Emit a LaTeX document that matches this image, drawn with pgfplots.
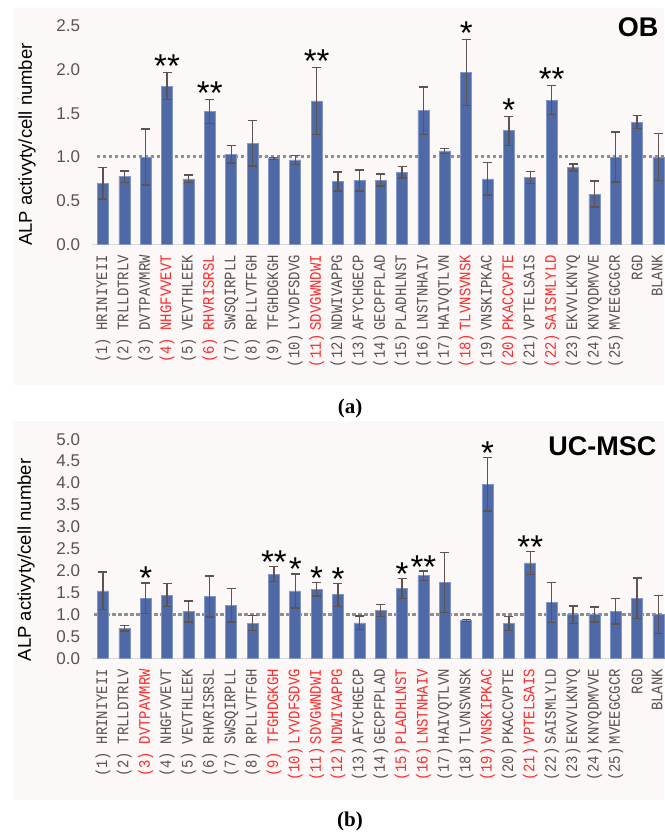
\documentclass[border=0pt]{standalone}
\usepackage{pgfplots}
\pgfplotsset{compat=1.18}
\usepackage{pgfplotstable}
\usepackage{fontspec}
\setmainfont{Liberation Sans}
\newfontfamily\seqfont[FakeStretch=0.87]{Liberation Mono}
\newfontfamily\panelfont{Liberation Serif}
\definecolor{barblue}{HTML}{4E69A6}
\definecolor{baredge}{HTML}{8497C9}
\definecolor{errc}{HTML}{5E5350}
\definecolor{labgray}{HTML}{5B5250}
\definecolor{labred}{HTML}{FF2A2A}
\definecolor{bgpink}{HTML}{FCF8F7}
\definecolor{refgray}{HTML}{8F8F8F}
\definecolor{axgray}{HTML}{D9D9D9}
\newcommand{\lab}[3]{\textcolor{#1}{\makebox[28pt][c]{(#2)}\hspace{6pt}#3}}

\pgfplotstableread{
x y e
0 0.70 0.18
1 0.775 0.065
2 1.00 0.32
3 1.81 0.155
4 0.75 0.045
5 1.52 0.135
6 1.03 0.10
7 1.157 0.26
8 0.985 0.01
9 0.966 0.05
10 1.64 0.38
11 0.72 0.11
12 0.73 0.12
13 0.737 0.07
14 0.825 0.065
15 1.53 0.27
16 1.07 0.03
17 1.965 0.375
18 0.75 0.185
19 1.30 0.165
20 0.765 0.07
21 1.65 0.165
22 0.88 0.04
23 0.577 0.15
24 1.00 0.286
25 1.397 0.075
26 1.00 0.266
}\obdata

\pgfplotstableread{
x y e
0 1.537 0.43
1 0.685 0.065
2 1.37 0.35
3 1.445 0.27
4 1.07 0.24
5 1.41 0.47
6 1.21 0.38
7 0.80 0.17
8 1.92 0.17
9 1.537 0.39
10 1.58 0.155
11 1.45 0.26
12 0.81 0.155
13 1.087 0.135
14 1.59 0.23
15 1.886 0.105
16 1.73 0.68
17 0.867 0.025
18 3.97 0.61
19 0.79 0.16
20 2.176 0.255
21 1.27 0.46
22 0.996 0.195
23 1.00 0.17
24 1.07 0.29
25 1.37 0.46
26 1.00 0.44
}\ucdata

\pgfplotsset{
 panel/.style={
  scale only axis, width=571.7pt,
  xmin=-0.5, xmax=26.26, ymin=0,
  axis x line*=bottom, axis y line*=left,
  axis line style={-},
  y axis line style={draw=none},
  x axis line style={axgray, line width=1pt},
  major tick length=0pt,
  xtick={0,...,26},
  xticklabel style={rotate=90, anchor=east, inner sep=0pt, font=\seqfont\fontsize{16}{16}\selectfont, text=labgray},
  xticklabel shift=10.5pt,
  yticklabel style={font=\fontsize{17}{17}\selectfont, text=labgray, inner sep=0pt},
  yticklabel shift=12pt,
  /pgf/number format/.cd, fixed, fixed zerofill, precision=1, assume math mode=true, /pgfplots/.cd,
  clip=false,
  ylabel={ALP activyty/cell number},
 },
 bars/.style={ybar, bar width=11pt, fill=barblue, draw=baredge, line width=0.6pt,
  error bars/.cd, y dir=both, y explicit,
  error bar style={errc, line width=1.3pt},
  error mark options={rotate=90, errc, line width=1.3pt, mark size=4.5pt}},
 stars/.style={draw=none, mark=none, nodes near coords, point meta=explicit symbolic,
  every node near coord/.append style={font=\fontsize{33}{33}\selectfont, anchor=base, inner sep=0pt, yshift=#1, text=black}},
 refline/.style={refgray, line width=3pt, dash pattern=on 3.3pt off 2.7pt, forget plot},
}

\begin{document}
\begin{tikzpicture}
\useasboundingbox (0,0) rectangle (664pt,834pt);
\fill[bgpink] (13pt,449pt) rectangle (664pt,826pt);
\fill[bgpink] (13pt,34pt) rectangle (664pt,413pt);
\node[font=\panelfont\bfseries\fontsize{21}{21}\selectfont] at (350pt,426pt) {(a)};
\node[font=\panelfont\bfseries\fontsize{21}{21}\selectfont] at (350pt,13pt) {(b)};

\begin{axis}[panel, at={(92.3pt,589.5pt)}, anchor=south west,
  height=218.75pt, ymax=2.5, ytick={0,0.5,1,1.5,2,2.5},
  every axis y label/.style={at={(axis description cs:-0.1142,0.457)}, rotate=90, anchor=center, font=\fontsize{18.5}{18.5}\selectfont},
  xticklabels={
   {\lab{labgray}{1}{HRINIYEII}},
   {\lab{labgray}{2}{TRLLDTRLV}},
   {\lab{labgray}{3}{DVTPAVMRW}},
   {\lab{labred}{4}{NHGFVVEVT}},
   {\lab{labgray}{5}{VEVTHLEEK}},
   {\lab{labred}{6}{RHVRISRSL}},
   {\lab{labgray}{7}{SWSQIRPLL}},
   {\lab{labgray}{8}{RPLLVTFGH}},
   {\lab{labgray}{9}{TFGHDGKGH}},
   {\lab{labgray}{10}{LYVDFSDVG}},
   {\lab{labred}{11}{SDVGWNDWI}},
   {\lab{labgray}{12}{NDWIVAPPG}},
   {\lab{labgray}{13}{AFYCHGECP}},
   {\lab{labgray}{14}{GECPFPLAD}},
   {\lab{labgray}{15}{PLADHLNST}},
   {\lab{labgray}{16}{LNSTNHAIV}},
   {\lab{labgray}{17}{HAIVQTLVN}},
   {\lab{labred}{18}{TLVNSVNSK}},
   {\lab{labgray}{19}{VNSKIPKAC}},
   {\lab{labred}{20}{PKACCVPTE}},
   {\lab{labgray}{21}{VPTELSAIS}},
   {\lab{labred}{22}{SAISMLYLD}},
   {\lab{labgray}{23}{EKVVLKNYQ}},
   {\lab{labgray}{24}{KNYQDMVVE}},
   {\lab{labgray}{25}{MVEEGCGCR}},
   {RGD},
   {\raisebox{2.5pt}{BLANK}}},
 ]
\addplot[refline] coordinates {(-0.3,1) (26.26,1)};
\addplot[bars] table[x=x, y=y, y error=e] {\obdata};
\addplot[stars=-5pt] coordinates {(3,1.965)[**] (5,1.655)[**] (10,2.02)[**] (17,2.34)[*] (19,1.465)[*] (21,1.815)[**]};
\node[anchor=base east, font=\bfseries\fontsize{27}{27}\selectfont] at (axis description cs:0.9965,0.9486) {OB};
\end{axis}

\begin{axis}[panel, at={(92.3pt,175.7pt)}, anchor=south west,
  height=219pt, ymax=5, ytick={0,0.5,1,1.5,2,2.5,3,3.5,4,4.5,5},
  every axis y label/.style={at={(axis description cs:-0.116,0.449)}, rotate=90, anchor=center, font=\fontsize{18.5}{18.5}\selectfont},
  xticklabels={
   {\lab{labgray}{1}{HRINIYEII}},
   {\lab{labgray}{2}{TRLLDTRLV}},
   {\lab{labred}{3}{DVTPAVMRW}},
   {\lab{labgray}{4}{NHGFVVEVT}},
   {\lab{labgray}{5}{VEVTHLEEK}},
   {\lab{labgray}{6}{RHVRISRSL}},
   {\lab{labgray}{7}{SWSQIRPLL}},
   {\lab{labgray}{8}{RPLLVTFGH}},
   {\lab{labred}{9}{TFGHDGKGH}},
   {\lab{labred}{10}{LYVDFSDVG}},
   {\lab{labred}{11}{SDVGWNDWI}},
   {\lab{labred}{12}{NDWIVAPPG}},
   {\lab{labgray}{13}{AFYCHGECP}},
   {\lab{labgray}{14}{GECPFPLAD}},
   {\lab{labred}{15}{PLADHLNST}},
   {\lab{labred}{16}{LNSTNHAIV}},
   {\lab{labgray}{17}{HAIVQTLVN}},
   {\lab{labgray}{18}{TLVNSVNSK}},
   {\lab{labred}{19}{VNSKIPKAC}},
   {\lab{labgray}{20}{PKACCVPTE}},
   {\lab{labred}{21}{VPTELSAIS}},
   {\lab{labgray}{22}{SAISMLYLD}},
   {\lab{labgray}{23}{EKVVLKNYQ}},
   {\lab{labgray}{24}{KNYQDMVVE}},
   {\lab{labgray}{25}{MVEEGCGCR}},
   {RGD},
   {\raisebox{2.5pt}{BLANK}}},
 ]
\addplot[refline] coordinates {(-0.4,1) (26.26,1)};
\addplot[bars] table[x=x, y=y, y error=e] {\ucdata};
\addplot[stars=-7pt] coordinates {(2,1.72)[*] (8,2.09)[**] (9,1.927)[*] (10,1.735)[*] (11,1.71)[*] (14,1.82)[*] (15,1.99)[**] (18,4.58)[*] (20,2.43)[**]};
\node[anchor=base east, font=\bfseries\fontsize{27}{27}\selectfont] at (axis description cs:0.993,0.924) {UC-MSC};
\end{axis}
\end{tikzpicture}
\end{document}
